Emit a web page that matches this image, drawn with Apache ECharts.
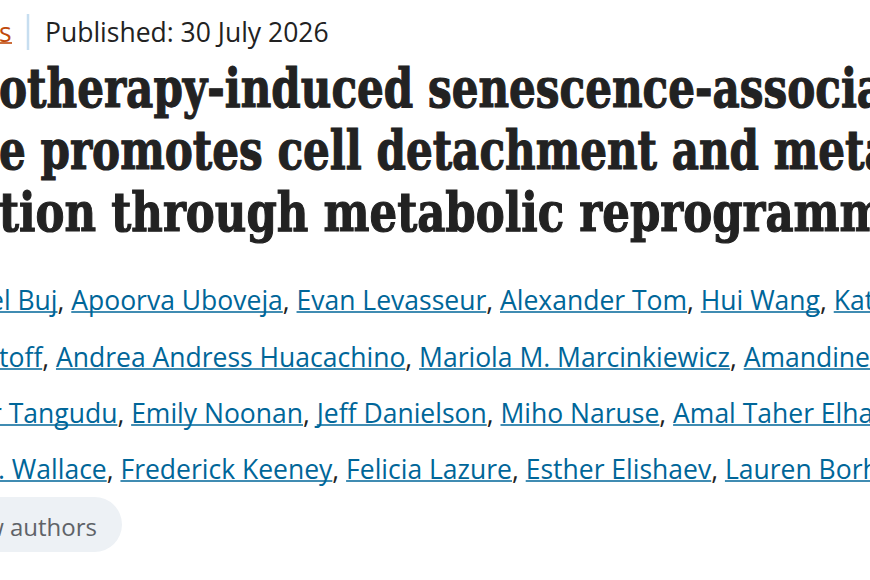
<!DOCTYPE html>
<html>
<head>
<meta charset="utf-8">
<script src="https://cdn.jsdelivr.net/npm/echarts@6/dist/echarts.min.js"></script>
<style>
html,body{margin:0;padding:0;background:#fff;}
#c{width:870px;height:580px;}
</style>
</head>
<body>
<div id="c"></div>
<script>
// ---- content ----
const breadcrumbTail = "s";
const publishedText = "Published: 30 July 2026";
const titleLines = [
  "otherapy-induced senescence-associa",
  "e promotes cell detachment and meta",
  "tion through metabolic reprogramm"
];
const authorLines = [
  ["el Buj", "Apoorva Uboveja", "Evan Levasseur", "Alexander Tom", "Hui Wang", "Kat"],
  ["toff", "Andrea Andress Huacachino", "Mariola M. Marcinkiewicz", "Amandine"],
  ["r Tangudu", "Emily Noonan", "Jeff Danielson", "Miho Naruse", "Amal Taher Elha"],
  [". Wallace", "Frederick Keeney", "Felicia Lazure", "Esther Elishaev", "Lauren Borho"]
];
const buttonText = "w authors";

// ---- style / layout ----
const SANS = '"Open Sans", "Noto Sans", sans-serif';
const SERIF = '"DejaVu Serif", serif';
const TITLE_SIZE = 54;
const titleScale = [0.78, 0.78, 0.805];
const AUTH_SIZE = 26.5;
const LINK = '#006699', INK = '#222222';

const cv = document.createElement('canvas').getContext('2d');
function measure(t, font){ cv.font = font; return cv.measureText(t).width; }

const chart = echarts.init(document.getElementById('c'), null, {renderer:'svg'});
const g = [];

// breadcrumb tail + separator + date
g.push({type:'text', x:-1, y:32, style:{text:breadcrumbTail, font:`26.5px ${SANS}`, fill:'#c0490a', verticalAlign:'middle'}});
g.push({type:'line', shape:{x1:0,y1:43,x2:12,y2:43}, style:{stroke:'#c0490a', lineWidth:1.6}});
g.push({type:'line', shape:{x1:28,y1:14,x2:28,y2:50}, style:{stroke:'#c7def0', lineWidth:2.5}});
g.push({type:'text', x:45, y:32, style:{text:publishedText, font:`26.5px ${SANS}`, fill:INK, verticalAlign:'middle'}});

// title
const titleMid = [88, 150, 212];
titleLines.forEach((t,i)=>{
  g.push({type:'text', x:-1, y:titleMid[i], scaleX:titleScale[i],
    style:{text:t, font:`bold ${TITLE_SIZE}px ${SERIF}`, fill:INK, stroke:INK, lineWidth:1.2, verticalAlign:'middle'}});
});

// authors
const authMid = [300, 357, 413, 469];
const authStart = [-11, -1, -9, -2];
const authFont = `${AUTH_SIZE}px ${SANS}`;
authorLines.forEach((names,i)=>{
  let x = authStart[i];
  const y = authMid[i];
  const ul = y + 12;
  names.forEach((n,k)=>{
    const w = measure(n, authFont);
    g.push({type:'text', x:x, y:y, style:{text:n, font:authFont, fill:LINK, verticalAlign:'middle'}});
    g.push({type:'line', shape:{x1:x, y1:ul, x2:x+w, y2:ul}, style:{stroke:LINK, lineWidth:1.7}});
    x += w;
    if(k < names.length-1){
      const sep = ", ";
      g.push({type:'text', x:x, y:y, style:{text:sep, font:authFont, fill:INK, verticalAlign:'middle'}});
      x += measure(sep, authFont);
    }
  });
});

// button
g.push({type:'rect', shape:{x:-40, y:497, width:162, height:55, r:27.5}, style:{fill:'#edf1f5'}});
g.push({type:'text', x:97, y:526, style:{text:buttonText, font:`24px ${SANS}`, fill:'#5f6368', align:'right', verticalAlign:'middle'}});

chart.setOption({backgroundColor:'#ffffff', graphic:g});
</script>
</body>
</html>
